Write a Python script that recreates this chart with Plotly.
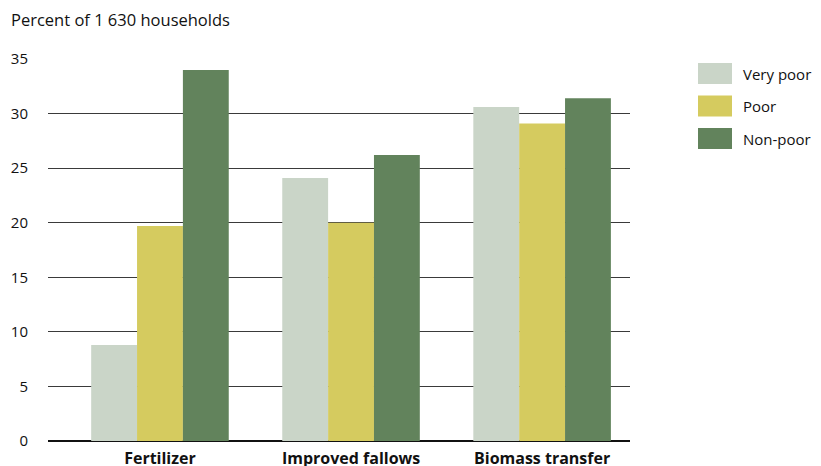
import plotly.graph_objects as go

categories = ["Fertilizer", "Improved fallows", "Biomass transfer"]
series_names = ["Very poor", "Poor", "Non-poor"]
very_poor = [8.8, 24.1, 30.6]
poor = [19.7, 20.0, 29.1]
non_poor = [34.0, 26.2, 31.4]
colors = ["#CAD5C8", "#D5CB5F", "#62835C"]
y_ticks = [0, 5, 10, 15, 20, 25, 30, 35]

FONT = "Open Sans"
fig = go.Figure()
for name, vals, col in zip(series_names, [very_poor, poor, non_poor], colors):
    fig.add_trace(go.Bar(x=list(range(len(categories))), y=vals, name=name,
                         marker=dict(color=col, line=dict(width=0)), showlegend=False))

# custom legend (large swatches)
for i, (name, col) in enumerate(zip(series_names, colors)):
    fig.add_shape(type="rect", xref="paper", yref="paper",
                  x0=(698 - 48) / 582, x1=(732 - 48) / 582,
                  y0=(466 - 84 - i * 32.5 - 25) / 382, y1=(466 - 63 - i * 32.5 - 25) / 382,
                  fillcolor=col, line=dict(width=0))
    fig.add_annotation(xref="paper", yref="paper", x=(741 - 48) / 582,
                       y=(466 - 73.5 - i * 32.5 - 25) / 382, text=name, showarrow=False,
                       xanchor="left", yanchor="middle",
                       font=dict(family=FONT, size=15, color="#111"))

fig.update_layout(
    width=821, height=466,
    margin=dict(l=48, r=191, t=59, b=25, autoexpand=False),
    plot_bgcolor="white", paper_bgcolor="white",
    barmode="group", bargap=0.28, bargroupgap=0,
    title=dict(text="Percent of 1 630 households", x=11 / 821, xanchor="left",
               y=1 - 20 / 466, yanchor="middle", font=dict(family=FONT, size=16.5, color="#111")),
    font=dict(family=FONT, color="#111"),
)
fig.update_xaxes(tickmode="array", tickvals=list(range(len(categories))), ticktext=categories,
                 range=[-0.586, 2.46], showgrid=False, zeroline=False, showline=False,
                 automargin=False,
                 ticks="outside", ticklen=3, tickcolor="rgba(0,0,0,0)",
                 tickfont=dict(family=FONT, size=16, color="#111", weight="bold"))
fig.update_yaxes(range=[0, 35], tickvals=y_ticks, showgrid=True, gridcolor="#3a3a3a", gridwidth=1.3,
                 zeroline=True, zerolinecolor="#111", zerolinewidth=1.5, showline=False,
                 automargin=False,
                 ticks="outside", ticklen=16, tickcolor="rgba(0,0,0,0)",
                 tickfont=dict(family=FONT, size=15, color="#111"))

fig.write_html("out.html", config={"displayModeBar": False},
               post_script="document.body.style.margin='0';document.body.style.overflow='hidden';")
